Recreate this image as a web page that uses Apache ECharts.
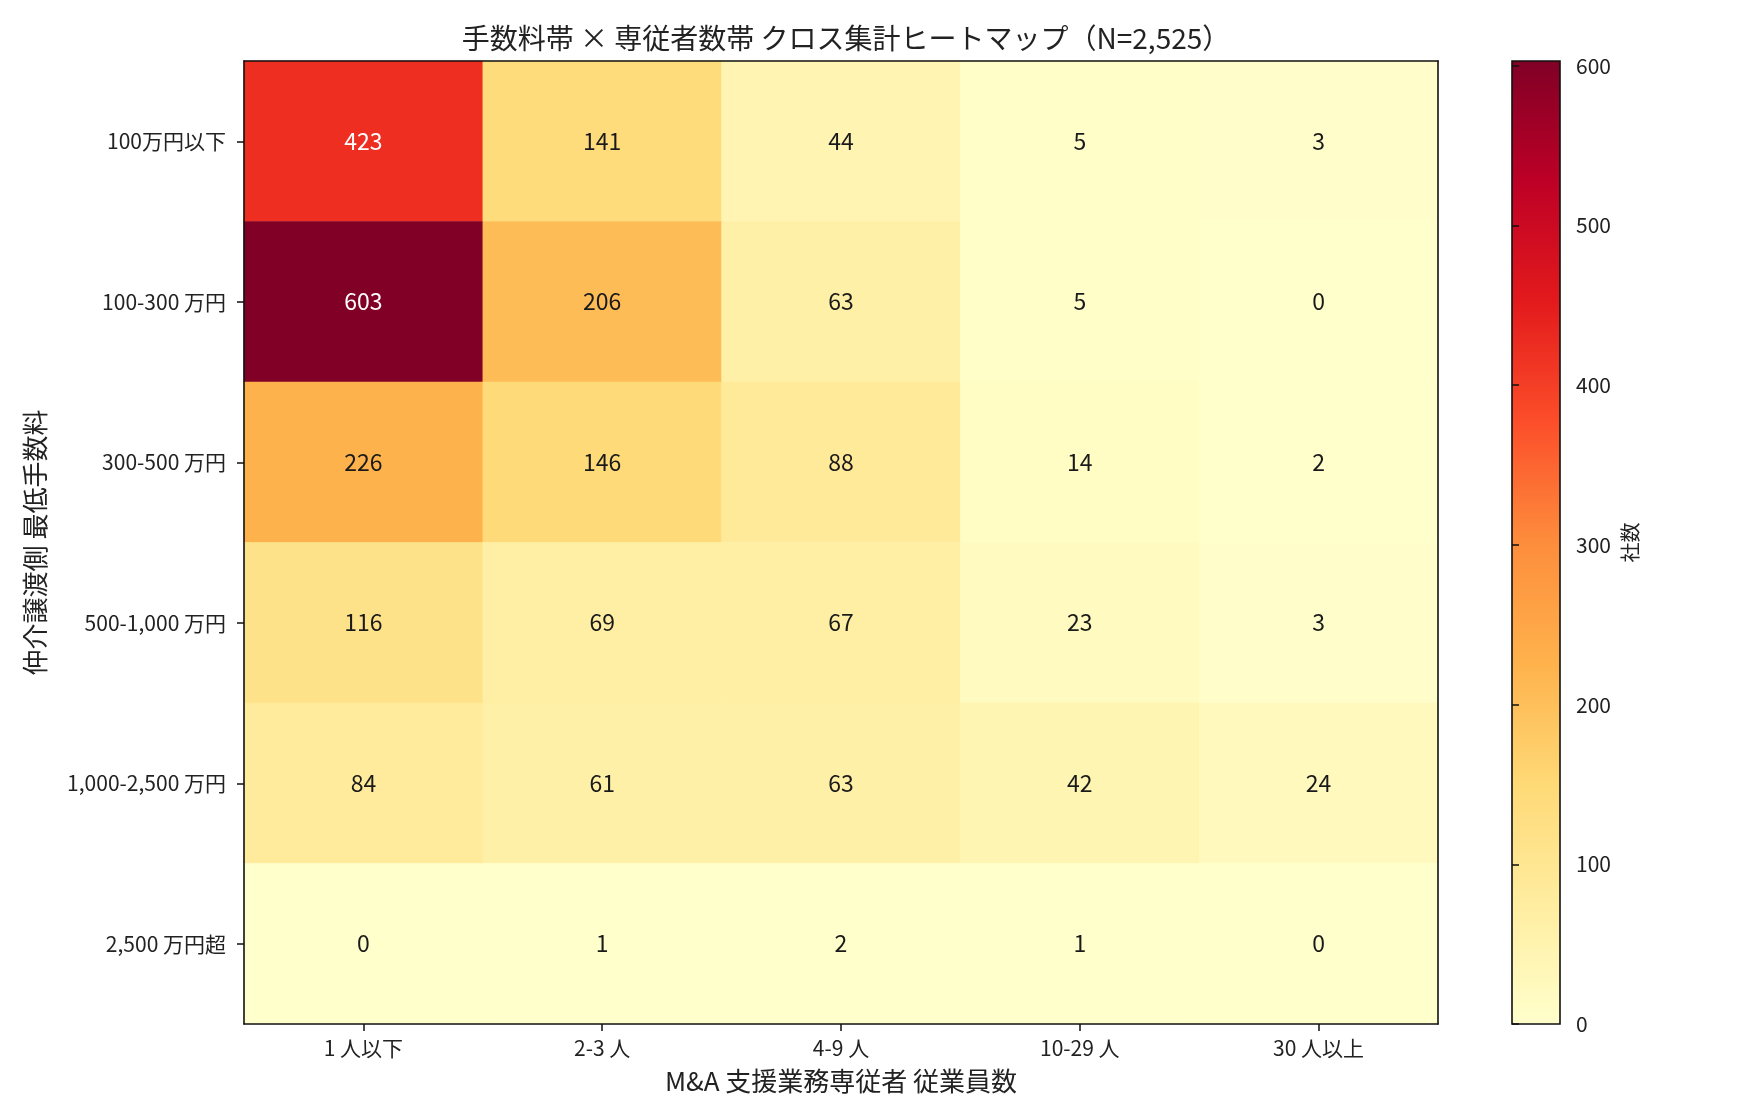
<!DOCTYPE html>
<html>
<head>
    <meta charset="utf-8">
    <title>手数料帯 × 専従者数帯 クロス集計ヒートマップ</title>
    <script src="https://cdn.jsdelivr.net/npm/echarts@6/dist/echarts.min.js"></script>
    <style>
        html, body { margin: 0; padding: 0; background: #fff; }
        #main { width: 1760px; height: 1120px; }
    </style>
</head>
<body>
<div id="main"></div>
<script>
    // 縦軸（上から）：仲介譲渡側 最低手数料
    var feeBands = ['100万円以下', '100-300 万円', '300-500 万円', '500-1,000 万円', '1,000-2,500 万円', '2,500 万円超'];
    // 横軸：専従者 従業員数
    var staffBands = ['1 人以下', '2-3 人', '4-9 人', '10-29 人', '30 人以上'];

    // 行ごとの社数
    var fee100Under = [423, 141, 44, 5, 3];
    var fee100to300 = [603, 206, 63, 5, 0];
    var fee300to500 = [226, 146, 88, 14, 2];
    var fee500to1000 = [116, 69, 67, 23, 3];
    var fee1000to2500 = [84, 61, 63, 42, 24];
    var fee2500Over = [0, 1, 2, 1, 0];

    var colorbarTicks = [0, 100, 200, 300, 400, 500, 600];
    // YlOrRd
    var ylOrRd = ['#ffffcc', '#ffeda0', '#fed976', '#feb24c', '#fd8d3c', '#fc4e2a', '#e31a1c', '#bd0026', '#800026'];

    var rows = [fee100Under, fee100to300, fee300to500, fee500to1000, fee1000to2500, fee2500Over];
    var vmax = 0;
    rows.forEach(function (r) { r.forEach(function (v) { if (v > vmax) vmax = v; }); });

    var cells = [];
    for (var r = 0; r < rows.length; r++) {
        for (var c = 0; c < rows[r].length; c++) {
            var v = rows[r][c];
            cells.push({
                value: [c, r, v],
                label: {color: v > vmax / 2 ? '#ffffff' : '#1a1a1a'}
            });
        }
    }

    var FONT = '"Noto Sans CJK JP", "Noto Sans", sans-serif';
    var INK = '#111111';

    var stops = ylOrRd.map(function (col, i) {
        return {offset: i / (ylOrRd.length - 1), color: col};
    });

    var myChart = echarts.init(document.getElementById('main'));
    var option = {
        animation: false,
        backgroundColor: '#ffffff',
        textStyle: {fontFamily: FONT},
        title: {
            text: '手数料帯 × 専従者数帯 クロス集計ヒートマップ（N=2,525）',
            left: 841,
            top: 19,
            textAlign: 'center',
            textStyle: {fontFamily: FONT, fontSize: 28, fontWeight: 'normal', color: '#222'}
        },
        grid: [
            {left: 244, top: 61, width: 1194, height: 963},
            {left: 1512, top: 61, width: 48, height: 963}
        ],
        xAxis: [
            {
                type: 'category', gridIndex: 0, data: staffBands, z: 10,
                name: 'M&A 支援業務専従者 従業員数',
                nameLocation: 'middle', nameGap: 44,
                nameTextStyle: {fontFamily: FONT, fontSize: 26, color: '#222'},
                axisLine: {show: true, lineStyle: {color: INK, width: 1.6}},
                axisTick: {show: true, alignWithLabel: true, length: 7, lineStyle: {color: INK, width: 1.5}},
                axisLabel: {fontFamily: FONT, fontSize: 21, color: '#222', margin: 14},
                splitLine: {show: false}
            },
            {
                type: 'category', gridIndex: 0, data: staffBands, position: 'top', z: 10,
                axisLine: {show: true, lineStyle: {color: INK, width: 1.6}},
                axisTick: {show: false}, axisLabel: {show: false}, splitLine: {show: false}
            },
            {
                type: 'value', gridIndex: 1, min: 0, max: 1, show: false
            }
        ],
        yAxis: [
            {
                type: 'category', gridIndex: 0, data: feeBands, inverse: true, z: 10,
                name: '仲介譲渡側 最低手数料',
                nameLocation: 'middle', nameGap: 196, nameRotate: 90,
                nameTextStyle: {fontFamily: FONT, fontSize: 26, color: '#222'},
                axisLine: {show: true, lineStyle: {color: INK, width: 1.6}},
                axisTick: {show: true, alignWithLabel: true, length: 7, lineStyle: {color: INK, width: 1.5}},
                axisLabel: {fontFamily: FONT, fontSize: 21, color: '#222', margin: 18},
                splitLine: {show: false}
            },
            {
                type: 'category', gridIndex: 0, data: feeBands, inverse: true, position: 'right', z: 10,
                axisLine: {show: true, lineStyle: {color: INK, width: 1.6}},
                axisTick: {show: false}, axisLabel: {show: false}, splitLine: {show: false}
            },
            {
                type: 'value', gridIndex: 1, min: 0, max: vmax, position: 'right', z: 10,
                name: '社数',
                nameLocation: 'middle', nameGap: 60, nameRotate: 90,
                nameTextStyle: {fontFamily: FONT, fontSize: 20, color: '#222'},
                axisLine: {show: false},
                axisTick: {show: true, length: 7, customValues: colorbarTicks, lineStyle: {color: INK, width: 1.5}},
                axisLabel: {fontFamily: FONT, fontSize: 21, color: '#222', margin: 16, customValues: colorbarTicks},
                splitLine: {show: false}
            }
        ],
        visualMap: {
            type: 'continuous',
            show: false,
            min: 0,
            max: vmax,
            seriesIndex: 0,
            dimension: 2,
            inRange: {color: ylOrRd}
        },
        series: [
            {
                type: 'heatmap',
                xAxisIndex: 0,
                yAxisIndex: 0,
                data: cells,
                itemStyle: {borderWidth: 0},
                label: {
                    show: true,
                    fontFamily: FONT,
                    fontSize: 23,
                    formatter: function (p) { return p.value[2]; }
                },
                emphasis: {disabled: true}
            },
            {
                // カラーバー
                type: 'custom',
                xAxisIndex: 2,
                yAxisIndex: 2,
                silent: true,
                data: [[0, 0, 1, vmax]],
                encode: {x: [0, 2], y: [1, 3]},
                renderItem: function (params, api) {
                    var p0 = api.coord([api.value(0), api.value(1)]);
                    var p1 = api.coord([api.value(2), api.value(3)]);
                    return {
                        type: 'rect',
                        shape: {x: p0[0], y: p1[1], width: p1[0] - p0[0], height: p0[1] - p1[1]},
                        style: {
                            fill: new echarts.graphic.LinearGradient(0, 1, 0, 0, stops),
                            stroke: INK,
                            lineWidth: 1.6
                        }
                    };
                }
            }
        ]
    };
    myChart.setOption(option);
</script>
</body>
</html>
